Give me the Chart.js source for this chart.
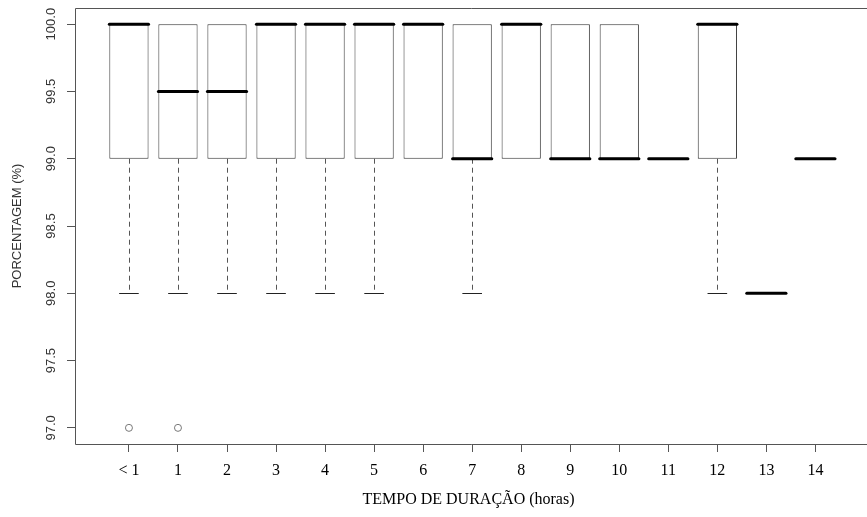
<!DOCTYPE html>
<html>
<head>
<meta charset="utf-8">
<script src="https://cdn.jsdelivr.net/npm/chart.js@4"></script>
<style>
  html, body { margin: 0; padding: 0; background: #fff; }
  #wrap { width: 867px; height: 517px; }
</style>
</head>
<body>
<div id="wrap"><canvas id="boxChart"></canvas></div>
<script>
// categorias (tempo de duração em horas)
const categories = ['< 1', '1', '2', '3', '4', '5', '6', '7', '8', '9', '10', '11', '12', '13', '14'];

// estatísticas de cada caixa
const lowerWhisker = [98, 98, 98, 98, 98, 98, 99, 98, 99, 99, 99, 99, 98, 98, 99];
const q1 = [99, 99, 99, 99, 99, 99, 99, 99, 99, 99, 99, 99, 99, 98, 99];
const median = [100, 99.5, 99.5, 100, 100, 100, 100, 99, 100, 99, 99, 99, 100, 98, 99];
const q3 = [100, 100, 100, 100, 100, 100, 100, 100, 100, 100, 100, 99, 100, 98, 99];
const upperWhisker = [100, 100, 100, 100, 100, 100, 100, 100, 100, 100, 100, 99, 100, 98, 99];
const outliers = [[97], [97], [], [], [], [], [], [], [], [], [], [], [], [], []];

const yTicks = [97.0, 97.5, 98.0, 98.5, 99.0, 99.5, 100.0];

const boxData = categories.map((c, i) => ({ x: i + 1, y: q3[i] > q1[i] ? [q1[i], q3[i]] : null }));
const outlierData = [];
outliers.forEach((list, i) => list.forEach(v => outlierData.push({ x: i + 1, y: v })));

// medianas, bigodes e moldura no estilo do R
const boxPlot = {
  id: 'boxPlot',
  afterDatasetsDraw(chart) {
    const { ctx, scales: { x, y } } = chart;
    const half = x.getPixelForValue(1.4) - x.getPixelForValue(1);
    const cap = half / 2;
    ctx.save();
    categories.forEach((c, i) => {
      const cx = x.getPixelForValue(i + 1);
      // bigode inferior
      if (lowerWhisker[i] < q1[i]) {
        const y0 = y.getPixelForValue(q1[i]);
        const y1 = y.getPixelForValue(lowerWhisker[i]);
        ctx.strokeStyle = '#555';
        ctx.lineWidth = 1;
        ctx.setLineDash([5, 4]);
        ctx.beginPath();
        ctx.moveTo(Math.round(cx) + 0.5, y0);
        ctx.lineTo(Math.round(cx) + 0.5, y1);
        ctx.stroke();
        ctx.setLineDash([]);
        ctx.strokeStyle = '#222';
        ctx.beginPath();
        ctx.moveTo(cx - cap, Math.round(y1) + 0.5);
        ctx.lineTo(cx + cap, Math.round(y1) + 0.5);
        ctx.stroke();
      }
      // bigode superior
      if (upperWhisker[i] > q3[i]) {
        const y0 = y.getPixelForValue(q3[i]);
        const y1 = y.getPixelForValue(upperWhisker[i]);
        ctx.strokeStyle = '#555';
        ctx.setLineDash([5, 4]);
        ctx.beginPath();
        ctx.moveTo(Math.round(cx) + 0.5, y0);
        ctx.lineTo(Math.round(cx) + 0.5, y1);
        ctx.stroke();
        ctx.setLineDash([]);
      }
      // mediana
      const my = y.getPixelForValue(median[i]);
      ctx.strokeStyle = '#000';
      ctx.lineWidth = 3;
      ctx.lineCap = 'round';
      ctx.beginPath();
      ctx.moveTo(cx - half, my);
      ctx.lineTo(cx + half, my);
      ctx.stroke();
      ctx.lineCap = 'butt';
    });
    ctx.restore();
  },
  afterDraw(chart) {
    const { ctx, chartArea: a } = chart;
    ctx.save();
    ctx.strokeStyle = '#555';
    ctx.lineWidth = 1;
    ctx.beginPath();
    ctx.moveTo(a.right + 10, a.top + 0.5);
    ctx.lineTo(a.left + 0.5, a.top + 0.5);
    ctx.lineTo(a.left + 0.5, a.bottom + 0.5);
    ctx.lineTo(a.right + 10, a.bottom + 0.5);
    ctx.stroke();
    ctx.restore();
  }
};

new Chart(document.getElementById('boxChart'), {
  type: 'bar',
  data: {
    datasets: [{
      label: 'caixas',
      data: boxData,
      backgroundColor: '#fff',
      borderColor: '#333',
      borderWidth: 1,
      borderSkipped: false,
      barPercentage: 0.8,
      categoryPercentage: 1
    }, {
      type: 'scatter',
      label: 'outliers',
      data: outlierData,
      pointStyle: 'circle',
      pointRadius: 3.5,
      pointBorderWidth: 1,
      pointBorderColor: '#777',
      pointBackgroundColor: 'rgba(0,0,0,0)',
      showLine: false
    }]
  },
  options: {
    responsive: true,
    maintainAspectRatio: false,
    animation: false,
    layout: { padding: { top: 8, right: 1, left: 0, bottom: 0 } },
    plugins: {
      legend: { display: false },
      tooltip: { enabled: false }
    },
    scales: {
      x: {
        type: 'linear',
        offset: false,
        min: -0.1,
        max: 15.95,
        afterBuildTicks: scale => { scale.ticks = categories.map((c, i) => ({ value: i + 1 })); },
        afterFit: scale => { scale.height = 73; },
        border: { display: false },
        grid: { offset: false, drawOnChartArea: false, drawTicks: true, tickLength: 8, color: '#555' },
        ticks: {
          padding: 9,
          color: '#000',
          font: { family: 'Liberation Serif', size: 16 },
          maxRotation: 0,
          autoSkip: false,
          callback: v => categories[v - 1]
        },
        title: {
          display: true,
          text: 'TEMPO DE DURAÇÃO (horas)',
          color: '#000',
          font: { family: 'Liberation Serif', size: 16 },
          padding: { top: 0, bottom: 8 }
        }
      },
      y: {
        min: 96.88,
        max: 100.12,
        afterBuildTicks: scale => { scale.ticks = yTicks.map(v => ({ value: v })); },
        afterFit: scale => { scale.width = 75; },
        border: { display: false },
        grid: { drawOnChartArea: false, drawTicks: true, tickLength: 8, color: '#555' },
        ticks: {
          padding: -1,
          minRotation: 90,
          maxRotation: 90,
          crossAlign: 'center',
          color: '#333',
          font: { family: 'Liberation Sans', size: 13 },
          callback: v => v.toFixed(1)
        },
        title: {
          display: true,
          text: 'PORCENTAGEM (%)',
          color: '#333',
          font: { family: 'Liberation Sans', size: 13 },
          padding: { top: 10, bottom: 0 }
        }
      }
    }
  },
  plugins: [boxPlot]
});
</script>
</body>
</html>
